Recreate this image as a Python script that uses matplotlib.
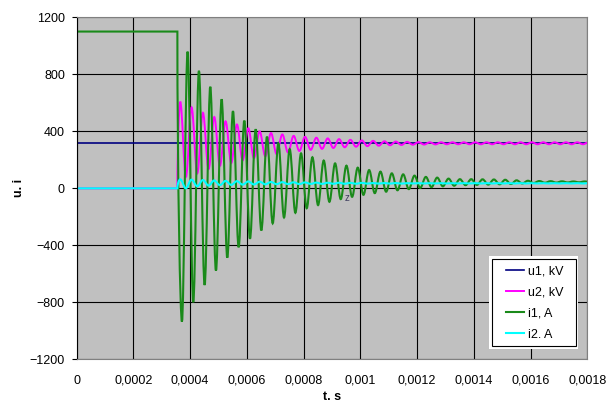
import numpy as np
import matplotlib
matplotlib.use("Agg")
import matplotlib.pyplot as plt
from matplotlib.ticker import MultipleLocator, FuncFormatter
from matplotlib.patches import Rectangle, PathPatch
from matplotlib.path import Path
from matplotlib.lines import Line2D

plt.rcParams['font.family'] = ['Liberation Sans', 'DejaVu Sans']

# switching instant and spacing of the read-off extrema (half an oscillation period)
t_switch = 0.000355
half_period = 0.00002

# u1, kV - flat line
u1_t = [0, 0.0018]
u1_v = [316, 316]

# u2, kV - peaks and troughs, first peak at 0.000365
u2_start = 0.000365
u2_base = 0
u2_peaks = [608, 568, 530, 500, 470, 448, 421, 400, 388, 378, 368, 361, 355, 350, 345,
            340, 336, 333, 330, 328, 326, 324, 323, 323, 323, 323, 323, 323, 323, 323,
            323, 323, 323, 323, 323, 323, 323]
u2_troughs = [80, 105, 135, 158, 178, 196, 212, 225, 240, 252, 262, 270, 277, 283, 288,
              292, 296, 299, 302, 304, 306, 307, 308, 309, 309, 309, 309, 309, 309, 309,
              309, 309, 309, 309, 309, 309]

# i1, A - starts at 1100, first trough at 0.000371
i1_start = 0.000371
i1_base = 1100
i1_troughs = [-936, -800, -679, -578, -487, -414, -354, -296, -246, -205, -172, -140, -118,
              -95, -76, -60, -46, -34, -24, -14, -6, 2, 8, 14, 18, 22, 24, 26, 28, 30,
              34, 37, 39, 40, 41, 42, 42]
i1_peaks = [959, 825, 713, 625, 542, 475, 414, 362, 316, 275, 245, 218, 195, 175, 159,
            145, 128, 117, 105, 98, 89, 80, 75, 68, 64, 64, 63, 62, 60, 56, 53, 51, 50,
            49, 48, 48]

# i2, A - small oscillation, first peak at 0.000365
i2_start = 0.000365
i2_base = 0
i2_peaks = [63, 61, 58, 55, 52, 50, 48, 46, 44, 43, 42, 41, 40, 39, 39, 38, 38, 37, 37,
            37, 36, 36, 36, 36, 36, 36, 36, 36, 36, 36, 36, 36, 36, 36, 36, 36, 36]
i2_troughs = [0, 14, 19, 22, 24, 26, 27, 28, 29, 30, 30, 31, 31, 32, 32, 32, 33, 33, 33,
              33, 34, 34, 34, 34, 34, 34, 34, 34, 34, 34, 34, 34, 34, 34, 34, 34]

labels = ["u1, kV", "u2, kV", "i1, A", "i2. A"]
colors = ["#000080", "#ff00ff", "#1a8a1a", "#00ffff"]
widths = [1.2, 1.4, 1.5, 1.5]


def build(base, start, first, second):
    # interleave extrema (first list is one longer) and prepend the flat part
    ext = np.empty(len(first) + len(second))
    ext[0::2] = first
    ext[1::2] = second
    t = start + half_period * np.arange(len(ext))
    return np.r_[0, t_switch, t], np.r_[base, base, ext]


def smooth_path(t, v):
    # straight flat part, then smoothed segments between extrema (like Excel's smoothed line)
    verts = [(t[0], v[0]), (t[1], v[1])]
    codes = [Path.MOVETO, Path.LINETO]
    dt = t[2] - t[1]
    verts += [(t[1], (v[1] + v[2]) / 2), (t[2] - 0.36 * dt, v[2]), (t[2], v[2])]
    codes += [Path.CURVE4] * 3
    for k in range(2, len(t) - 1):
        dt = t[k + 1] - t[k]
        verts += [(t[k] + 0.36 * dt, v[k]), (t[k + 1] - 0.36 * dt, v[k + 1]), (t[k + 1], v[k + 1])]
        codes += [Path.CURVE4] * 3
    return Path(verts, codes)


fig = plt.figure(figsize=(6.14, 4.07), dpi=100)
ax = fig.add_axes([0.1249, 0.1172, 0.8315, 0.8403])
ax.set_facecolor("#c0c0c0")

ax.plot(u1_t, u1_v, color=colors[0], lw=widths[0], zorder=2)
for i, (base, start, a, b) in enumerate([(u2_base, u2_start, u2_peaks, u2_troughs),
                                         (i1_base, i1_start, i1_troughs, i1_peaks),
                                         (i2_base, i2_start, i2_peaks, i2_troughs)]):
    t, v = build(base, start, a, b)
    ax.add_patch(PathPatch(smooth_path(t, v), facecolor="none", edgecolor=colors[i + 1],
                           lw=widths[i + 1], zorder=2 + 0.1 * (i + 1), capstyle="butt"))

ax.set_xlim(0, 0.0018)
ax.set_ylim(-1200, 1200)
ax.xaxis.set_major_locator(MultipleLocator(0.0002))
ax.yaxis.set_major_locator(MultipleLocator(400))


def fmt(v, pos):
    if abs(v) < 1e-12:
        return "0"
    return f"{v:.4f}".rstrip("0").replace(".", ",")


ax.xaxis.set_major_formatter(FuncFormatter(fmt))
ax.grid(True, color="black", lw=0.8)
ax.set_axisbelow(True)
ax.tick_params(axis="x", length=0, pad=11, labelsize=9)
ax.tick_params(axis="y", length=3.5, width=0.8, pad=5, labelsize=9)
for s in ["top", "right", "bottom"]:
    ax.spines[s].set_color("#808080")
    ax.spines[s].set_linewidth(0.8)
ax.spines["left"].set_color("black")
ax.spines["left"].set_linewidth(0.8)

ax.set_xlabel("t. s", fontsize=9, fontweight="bold", labelpad=3)
ax.set_ylabel("u. i", fontsize=9, fontweight="bold", labelpad=3.5)

ax.text(0.000952, -68, "z", fontsize=7, color="#404060", ha="center", va="center")

# legend box: white margin with a thin black frame, entries placed inside
ax.add_patch(Rectangle((489 / 614, 1 - 349 / 407), 89 / 614, 93 / 407,
                       transform=fig.transFigure, facecolor="white",
                       edgecolor="none", zorder=9, clip_on=False))
ax.add_patch(Rectangle((492 / 614, 1 - 346 / 407), 84 / 614, 87 / 407,
                       transform=fig.transFigure, facecolor="none",
                       edgecolor="black", lw=0.8, zorder=9.5, clip_on=False))
handles = [Line2D([], [], color=c, lw=w) for c, w in zip(colors, widths)]
leg = ax.legend(handles, labels, loc="center", bbox_to_anchor=(535 / 614, 1 - 303 / 407),
                bbox_transform=fig.transFigure, borderaxespad=0, frameon=False,
                fontsize=9, handlelength=1.45, handletextpad=0.3, labelspacing=0.72,
                borderpad=0)
leg.set_zorder(10)

fig.savefig("out.png", dpi=100)
